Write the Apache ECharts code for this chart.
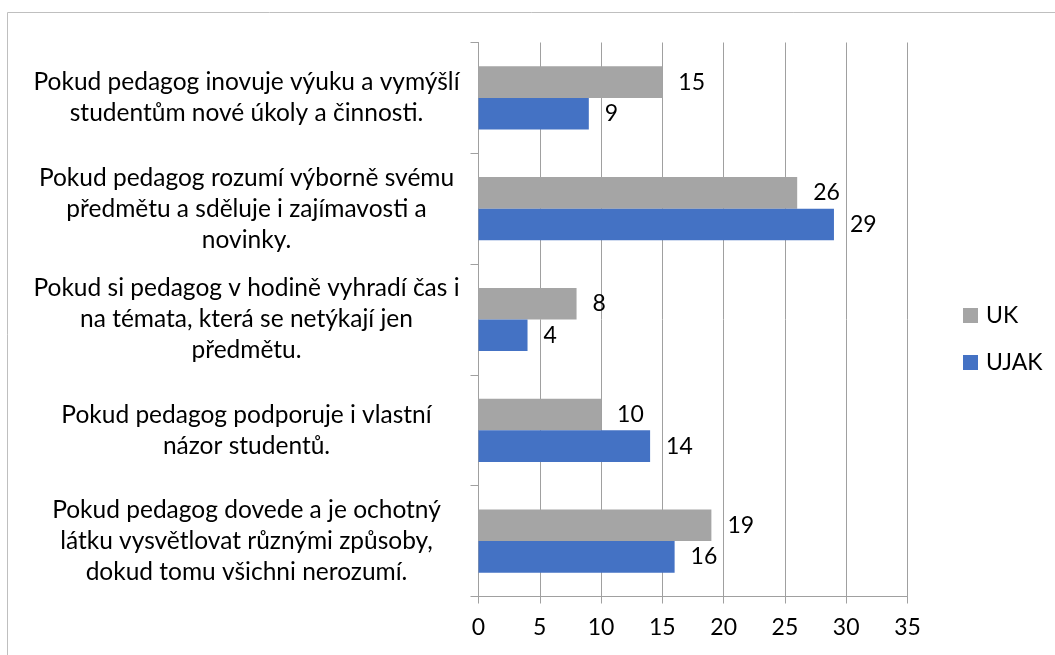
<!DOCTYPE html>
<html>
<head>
<meta charset="utf-8">
<script src="https://cdn.jsdelivr.net/npm/echarts@6/dist/echarts.min.js"></script>
<style>
html,body{margin:0;padding:0;background:#fff;}
#chart{width:1055px;height:655px;}
</style>
</head>
<body>
<div id="chart"></div>
<script>
const categories = [
  "Pokud pedagog inovuje výuku a vymýšlí\nstudentům nové úkoly a činnosti.",
  "Pokud pedagog rozumí výborně svému\npředmětu a sděluje i zajímavosti a\nnovinky.",
  "Pokud si pedagog v hodině vyhradí čas i\nna témata, která se netýkají jen\npředmětu.",
  "Pokud pedagog podporuje i vlastní\nnázor studentů.",
  "Pokud pedagog dovede a je ochotný\nlátku vysvětlovat různými způsoby,\ndokud tomu všichni nerozumí."
];
const seriesNames = ["UK", "UJAK"];
const ukValues = [15, 26, 8, 10, 19];
const ujakValues = [9, 29, 4, 14, 16];
const xTicks = [0, 5, 10, 15, 20, 25, 30, 35];

const FONT = "Lato";
const FS = 23;
const chart = echarts.init(document.getElementById('chart'), null, {renderer: 'canvas'});
const labelStyle = {show: true, position: 'right', distance: 16, color: '#000', fontFamily: FONT, fontSize: FS};
chart.setOption({
  animation: false,
  backgroundColor: '#fff',
  graphic: [{
    type: 'rect', shape: {x: 7.5, y: 12.5, width: 1200, height: 800},
    style: {fill: 'none', stroke: '#bfbfbf', lineWidth: 1}, silent: true, z: -1
  }],
  legend: {
    orient: 'vertical', left: 958, top: 299,
    itemWidth: 15, itemHeight: 15, itemGap: 24,
    icon: 'rect',
    textStyle: {fontFamily: FONT, fontSize: FS, color: '#000', padding: [0,0,0,3]},
    data: seriesNames
  },
  grid: {left: 478.5, right: 147.5, top: 42.5, bottom: 58.5, containLabel: false},
  xAxis: {
    type: 'value', min: xTicks[0], max: xTicks[xTicks.length-1], interval: 5,
    axisLine: {show: true, lineStyle: {color: '#a0a0a0', width: 1}},
    axisTick: {show: true, length: 7, lineStyle: {color: '#a0a0a0'}},
    splitLine: {show: true, lineStyle: {color: '#a0a0a0', width: 1}},
    axisLabel: {margin: 20, color: '#000', fontFamily: FONT, fontSize: FS}
  },
  yAxis: {
    type: 'category', data: categories, inverse: true,
    axisLine: {show: true, lineStyle: {color: '#a0a0a0', width: 1}},
    axisTick: {show: true, length: 8, lineStyle: {color: '#a0a0a0'}},
    axisLabel: {margin: 232, align: 'center', color: '#000', fontFamily: FONT, fontSize: 24.5, lineHeight: 31}
  },
  series: [
    {name: seriesNames[0], type: 'bar', data: ukValues, itemStyle: {color: '#A5A5A5'},
     barGap: '0%', barCategoryGap: '43%', label: labelStyle},
    {name: seriesNames[1], type: 'bar', data: ujakValues, itemStyle: {color: '#4472C4'},
     barGap: '0%', barCategoryGap: '43%', label: labelStyle}
  ]
});
</script>
</body>
</html>
